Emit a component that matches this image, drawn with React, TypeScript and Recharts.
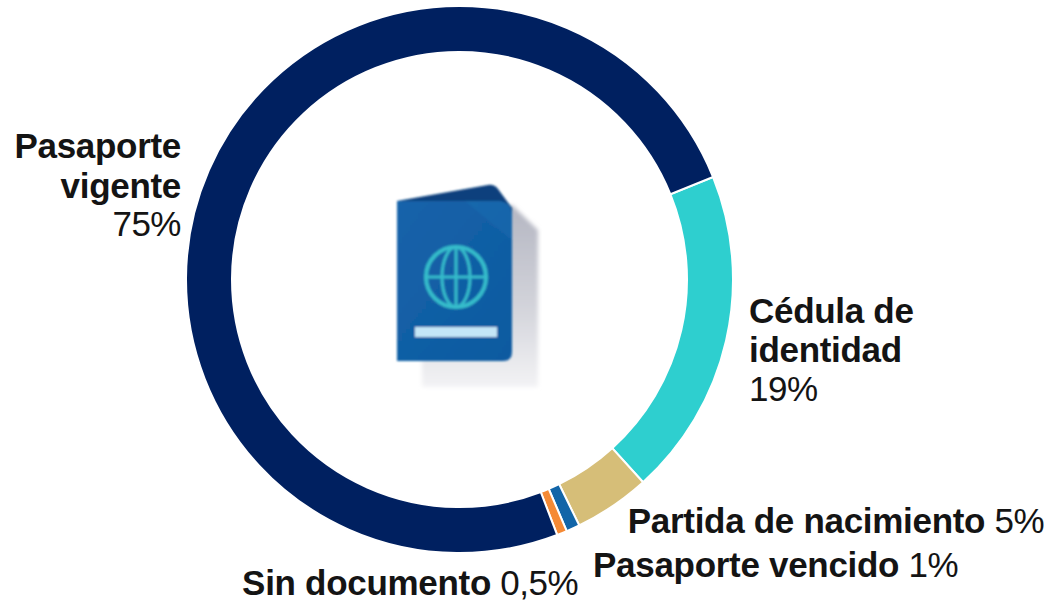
import React from "react";
import { PieChart, Pie, Cell } from "recharts";

const categories = ["Cédula de identidad", "Partida de nacimiento", "Pasaporte vencido", "Sin documento", "Pasaporte vigente"];
const shares = [19.4, 4.5, 0.8, 0.6, 74.7];
const colors = ["#2ECFCF", "#D6BE78", "#1265A8", "#F58A35", "#002060"];
const data = categories.map((name, i) => ({ name, value: shares[i] }));

const font = "'Liberation Sans', Arial, sans-serif";
const ink = "#141414";
const T = (p: any) => (
  <text fontFamily={font} fontSize={35} fill={ink} letterSpacing={-0.5} {...p} />
);
const B = (p: any) => <tspan fontWeight={700} letterSpacing={-0.3} {...p} />;

export default function App() {
  return (
    <div style={{ position: "absolute", left: 0, top: 0, width: 1048, height: 601, background: "#fff" }}>
      <PieChart width={1048} height={601} margin={{ top: 0, right: 0, bottom: 0, left: 0 }}>
        <defs>
          <linearGradient id="shadow" x1="0" y1="0" x2="0" y2="1">
            <stop offset="0" stopColor="#b4b6c2" />
            <stop offset="0.55" stopColor="#d2d3da" />
            <stop offset="1" stopColor="#f3f3f5" />
          </linearGradient>
          <linearGradient id="cover" x1="0" y1="0" x2="1" y2="1">
            <stop offset="0" stopColor="#1463aa" />
            <stop offset="1" stopColor="#0f5aa0" />
          </linearGradient>
          <filter id="soft" x="-10%" y="-10%" width="120%" height="120%">
            <feGaussianBlur stdDeviation="0.8" />
          </filter>
          <filter id="softer" x="-10%" y="-10%" width="120%" height="120%">
            <feGaussianBlur stdDeviation="2" />
          </filter>
        </defs>
        <Pie
          data={data}
          dataKey="value"
          nameKey="name"
          cx={459.5}
          cy={279.5}
          innerRadius={227.5}
          outerRadius={273.5}
          startAngle={22}
          endAngle={-338}
          stroke="#fff"
          strokeWidth={2}
          isAnimationActive={false}
          label={false}
          labelLine={false}
        >
          {data.map((d, i) => (
            <Cell key={d.name} fill={colors[i]} />
          ))}
        </Pie>
        <path d="M422 240 L512 205 L538 230 L538 387 L422 387 Z" fill="url(#shadow)" filter="url(#softer)" />
        <g filter="url(#soft)">
          <path d="M397 201 L488 185 Q494 184 498 189 L512 208 L512 215 L397 215 Z" fill="#0a3f7d" />
          <path d="M397 201 L500 201 Q512 203 512 215 L512 352 Q512 361 503 361 L397 361 Z" fill="url(#cover)" />
          <path d="M465 201 L500 201 Q512 203 512 215 L512 240 Z" fill="#2a78b8" opacity={0.3} />
          <circle cx={456} cy={277} r={30} fill="none" stroke="#36bccb" strokeWidth={4} />
          <ellipse cx={456} cy={277} rx={14} ry={30} fill="none" stroke="#36bccb" strokeWidth={3} />
          <line x1={456} y1={247} x2={456} y2={307} stroke="#36bccb" strokeWidth={3} />
          <line x1={426} y1={277} x2={486} y2={277} stroke="#36bccb" strokeWidth={3} />
          <rect x={415} y={327} width={82} height={10} fill="#c4e6f7" />
        </g>
        <T x={181} y={158} textAnchor="end"><B>Pasaporte</B></T>
        <T x={181} y={198} textAnchor="end"><B>vigente</B></T>
        <T x={181} y={236} textAnchor="end">75%</T>
        <T x={749} y={323}><B>Cédula de</B></T>
        <T x={749} y={362}><B>identidad</B></T>
        <T x={749} y={401}>19%</T>
        <T x={1044} y={533} textAnchor="end"><B>Partida de nacimiento</B> 5%</T>
        <T x={958} y={577} textAnchor="end"><B>Pasaporte vencido</B> 1%</T>
        <T x={578} y={595} textAnchor="end"><B>Sin documento</B> 0,5%</T>
      </PieChart>
    </div>
  );
}
